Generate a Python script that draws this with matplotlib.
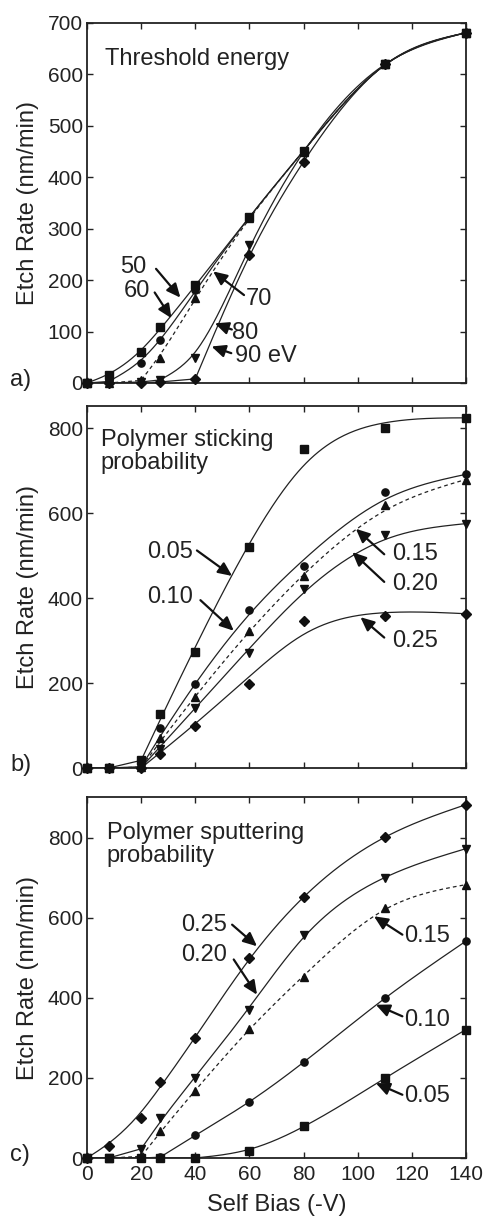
import numpy as np
import matplotlib
matplotlib.use("Agg")
import matplotlib.pyplot as plt

plt.rcParams['font.family'] = ['Liberation Sans', 'DejaVu Sans']

# ---------------- data ----------------
bias = [0, 8, 20, 27, 40, 60, 80, 110, 140]

# (a) threshold energy (eV)
thr_labels = ["50", "60", "70", "80", "90 eV"]
thr_50 = [0, 15, 60, 108, 190, 323, 451, 620, 681]
thr_60 = [0, 3, 39, 84, 181, 323, 450, 620, 681]
thr_70 = [0, 0, 5, 48, 166, 320, 450, 620, 681]
thr_80 = [0, 0, 2, 6, 48, 268, 449, 620, 681]
thr_90 = [0, 0, 0, 2, 8, 249, 429, 620, 681]

# (b) polymer sticking probability
stk_labels = ["0.05", "0.10", "0.15", "0.20", "0.25"]
stk_005 = [0, 0, 18, 128, 273, 520, 750, 800, 824]
stk_010 = [0, 0, 3, 93, 198, 373, 475, 649, 691]
stk_015 = [0, 0, 2, 71, 167, 322, 451, 620, 679]
stk_020 = [0, 0, 1, 45, 142, 271, 422, 549, 575]
stk_025 = [0, 0, 0, 34, 98, 198, 347, 358, 363]

# (c) polymer sputtering probability
spt_labels = ["0.25", "0.20", "0.15", "0.10", "0.05"]
spt_025 = [0, 29, 100, 189, 300, 500, 652, 802, 883]
spt_020 = [0, 0, 23, 100, 200, 371, 558, 700, 773]
spt_015 = [0, 0, 4, 67, 167, 323, 452, 625, 683]
spt_010 = [0, 0, 0, 2, 58, 139, 239, 400, 542]
spt_005 = [0, 0, 0, 0, 0, 18, 79, 200, 321]


def smooth_curve(xd, yd, onset, lam, step=0.5, end_w=50.0):
    """Smoothing-spline-like fit (penalised second differences) from the
    onset data point to the end; straight segments before the onset."""
    xd = np.asarray(xd, float)
    yd = np.asarray(yd, float)
    x0 = xd[onset]
    g = np.arange(x0, xd[-1] + 1e-9, step)
    n = len(g)
    AtWA = np.zeros((n, n))
    AtWy = np.zeros(n)
    for i in range(onset, len(xd)):
        j = int(round((xd[i] - x0) / step))
        w = 1e6 if i == onset else (end_w if i == len(xd) - 1 else 1.0)
        AtWA[j, j] += w
        AtWy[j] += w * yd[i]
    D = np.zeros((n - 2, n))
    for k in range(n - 2):
        D[k, k:k + 3] = [1, -2, 1]
    D /= step ** 2
    f = np.linalg.solve(AtWA + lam * step * D.T @ D, AtWy)
    gx = np.concatenate([xd[:onset], g])
    gy = np.concatenate([yd[:onset], f])
    return gx, np.maximum(gy, 0)


W, H = 486, 1218
fig = plt.figure(figsize=(W / 100, H / 100), dpi=100)
tc = '#222222'

left = 87 / W
width = (466 - 87) / W
panels = [
    (23, 383, 700, np.arange(0, 701, 100)),
    (406, 768, 852, np.arange(0, 801, 200)),
    (797, 1158, 902, np.arange(0, 801, 200)),
]
axes = []
for top, bot, ymax, yt in panels:
    ax = fig.add_axes([left, 1 - bot / H, width, (bot - top) / H])
    ax.set_xlim(0, 140)
    ax.set_ylim(0, ymax)
    ax.set_yticks(yt)
    ax.set_xticks(np.arange(0, 141, 20))
    ax.tick_params(direction='in', top=True, right=True, length=4, width=1,
                   labelsize=15, pad=3, colors=tc)
    ax.tick_params(axis='x', pad=5)
    for s in ax.spines.values():
        s.set_linewidth(1.3)
        s.set_color(tc)
    ax.set_ylabel("Etch Rate (nm/min)", fontsize=17, color=tc, labelpad=6)
    axes.append(ax)

a, b, c = axes
a.tick_params(labelbottom=False)
b.tick_params(labelbottom=False)
c.set_xlabel("Self Bias (-V)", fontsize=17, color=tc, labelpad=7)


def draw_series(ax, series, styles, mks, onsets, lam):
    for ys, mk, ls, on in zip(series, mks, styles, onsets):
        gx, gy = smooth_curve(bias, ys, on, lam)
        if ls == '--':
            ax.plot(gx, gy, color=tc, lw=0.9, ls=(0, (3, 2.5)))
        else:
            ax.plot(gx, gy, color=tc, lw=0.9)
        ax.plot(bias, ys, ls='none', marker=mk, color='#111111', ms=5.2,
                mec='#111111', clip_on=False, zorder=3)


draw_series(a, [thr_50, thr_60, thr_70, thr_80, thr_90],
            ['-', '-', '--', '-', '-'], ['s', 'o', '^', 'v', 'D'],
            [0, 1, 2, 3, 4], 150)
draw_series(b, [stk_005, stk_010, stk_015, stk_020, stk_025],
            ['-', '-', '--', '-', '-'], ['s', 'o', '^', 'v', 'D'],
            [2, 2, 2, 2, 2], 2500)
draw_series(c, [spt_025, spt_020, spt_015, spt_010, spt_005],
            ['-', '-', '--', '-', '-'], ['D', 'v', '^', 'o', 's'],
            [0, 2, 2, 3, 4], 400)

a.text(6.6, 652, "Threshold energy", fontsize=17, color=tc, va='top', ha='left')
b.text(5, 797, "Polymer sticking\nprobability", fontsize=17, color=tc,
       va='top', ha='left', linespacing=1.05)
c.text(7.3, 840, "Polymer sputtering\nprobability", fontsize=17, color=tc,
       va='top', ha='left', linespacing=1.05)

arrow_kw = dict(arrowstyle='-|>,head_length=0.55,head_width=0.25', lw=1.6,
                color='#111111', shrinkA=0, shrinkB=0, mutation_scale=15)


def label(ax, text, txy, tail, head, ha='center'):
    ax.text(txy[0], txy[1], text, fontsize=17, color=tc, ha=ha, va='center')
    ax.annotate('', xy=head, xytext=tail, arrowprops=arrow_kw)


# panel a labels
label(a, thr_labels[0], (17, 226), (25.5, 222), (34.5, 166))
label(a, thr_labels[1], (18.5, 178), (25, 176), (31.2, 126))
label(a, thr_labels[2], (63.5, 164), (58, 171), (46.6, 217))
label(a, thr_labels[3], (58.5, 97), (53.5, 104), (47.2, 116))
label(a, thr_labels[4], (54.5, 52), (53.3, 58), (46, 71), ha='left')

# panel b labels
label(b, stk_labels[0], (30.7, 508), (40.6, 512), (53.6, 452))
label(b, stk_labels[1], (30.7, 402), (41.9, 395), (54.2, 323))
label(b, stk_labels[2], (121, 504), (109.8, 503), (99.3, 563))
label(b, stk_labels[3], (121, 434), (109.8, 438), (98, 508))
label(b, stk_labels[4], (121, 300), (109.8, 307), (101, 355))

# panel c labels
label(c, spt_labels[0], (43.1, 583), (53.6, 583), (62.8, 529))
label(c, spt_labels[1], (43.1, 508), (54.2, 496), (62.8, 408))
label(c, spt_labels[2], (125.8, 554), (116.5, 558), (106, 604))
label(c, spt_labels[3], (125.8, 346), (116.5, 354), (106.7, 383))
label(c, spt_labels[4], (125.8, 154), (116.5, 158), (106.7, 187))

for tag, (top, bot, _, _) in zip(["a)", "b)", "c)"], panels):
    fig.text(10 / W, 1 - (bot - 3) / H, tag, fontsize=17, color=tc,
             ha='left', va='center')

fig.savefig("out.png", dpi=100)
